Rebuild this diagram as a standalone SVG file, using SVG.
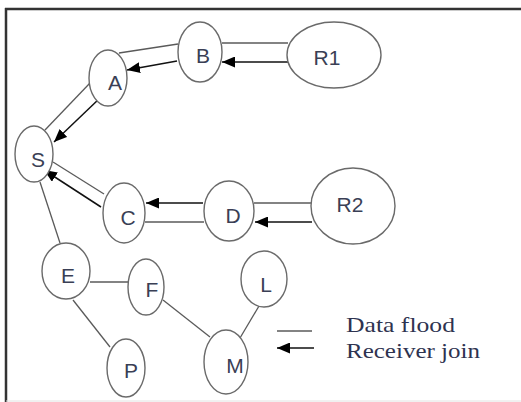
<svg xmlns="http://www.w3.org/2000/svg" width="521" height="402" viewBox="0 0 521 402">
<style>
.node ellipse{fill:#fff;stroke:#6a6a6a;stroke-width:1.4}
.node text{font-family:"Liberation Sans",Arial,sans-serif;font-size:21px;fill:#3a3f55;text-anchor:middle}
.flood{stroke:#5a5a5a;stroke-width:1.3;fill:none}
.join{stroke:#111;stroke-width:1.5;fill:none;marker-end:url(#ah)}
.legend{font-family:"Liberation Serif","Times New Roman",serif;font-size:22px;fill:#2e3350}
</style>
<defs>
<marker id="ah" markerUnits="userSpaceOnUse" markerWidth="13" markerHeight="11" refX="13" refY="5.5" orient="auto">
<path d="M0,0 L13,5.5 L0,11 z" fill="#000"/>
</marker>
</defs>
<rect width="521" height="402" fill="#fff"/>
<g id="frame">
<line x1="5" y1="9" x2="521" y2="9" stroke="#333" stroke-width="2.5"/>
<line x1="6" y1="8" x2="6" y2="402" stroke="#333" stroke-width="2.5"/>
<line x1="6" y1="401" x2="521" y2="401" stroke="#e2e2e2" stroke-width="1"/>
</g>
<g id="connectors">
<line class="flood" x1="222" y1="43" x2="288" y2="43"/>
<line class="flood" x1="119" y1="53" x2="178" y2="44"/>
<line class="flood" x1="90" y1="83" x2="45" y2="130"/>
<line class="flood" x1="53" y1="162" x2="104" y2="194"/>
<line class="flood" x1="145" y1="222" x2="204" y2="222"/>
<line class="flood" x1="254" y1="203" x2="313" y2="203"/>
<line class="flood" x1="40" y1="182" x2="60" y2="243"/>
<line class="flood" x1="90" y1="282" x2="128" y2="282"/>
<line class="flood" x1="73" y1="300" x2="110" y2="347"/>
<line class="flood" x1="163" y1="300" x2="210" y2="337"/>
<line class="flood" x1="240" y1="338" x2="259" y2="306"/>
<line class="join" x1="288" y1="62" x2="222" y2="62"/>
<line class="join" x1="177" y1="61" x2="127" y2="70"/>
<line class="join" x1="100" y1="98" x2="54" y2="142"/>
<line class="join" x1="101" y1="207" x2="44" y2="170"/>
<line class="join" x1="203" y1="203" x2="146" y2="203"/>
<line class="join" x1="312" y1="222" x2="255" y2="222"/>
</g>
<g id="node-B" class="node"><ellipse cx="200" cy="52" rx="22" ry="30"/><text x="203" y="63">B</text></g>
<g id="node-R1" class="node"><ellipse cx="334" cy="55" rx="47" ry="33"/><text x="327" y="65">R1</text></g>
<g id="node-A" class="node"><ellipse cx="108" cy="78" rx="19" ry="28"/><text x="115" y="90">A</text></g>
<g id="node-S" class="node"><ellipse cx="34" cy="154" rx="19" ry="28"/><text x="38" y="167">S</text></g>
<g id="node-C" class="node"><ellipse cx="124" cy="213" rx="21" ry="30"/><text x="128" y="225">C</text></g>
<g id="node-D" class="node"><ellipse cx="229" cy="211" rx="25" ry="30"/><text x="233" y="223">D</text></g>
<g id="node-R2" class="node"><ellipse cx="353" cy="206" rx="42" ry="38"/><text x="350" y="212">R2</text></g>
<g id="node-E" class="node"><ellipse cx="66" cy="271" rx="24" ry="28"/><text x="68" y="283">E</text></g>
<g id="node-F" class="node"><ellipse cx="146" cy="287" rx="18" ry="28"/><text x="152" y="297">F</text></g>
<g id="node-P" class="node"><ellipse cx="126" cy="368" rx="19" ry="29"/><text x="131" y="378">P</text></g>
<g id="node-M" class="node"><ellipse cx="226" cy="362" rx="22" ry="32"/><text x="235" y="373">M</text></g>
<g id="node-L" class="node"><ellipse cx="264" cy="279" rx="23" ry="28"/><text x="266" y="292">L</text></g>
<g id="legend">
<line class="flood" x1="277" y1="331" x2="312" y2="331"/>
<line class="join" x1="314" y1="348" x2="277" y2="348"/>
<text class="legend" x="346" y="332" textLength="109" lengthAdjust="spacingAndGlyphs">Data flood</text>
<text class="legend" x="346" y="358" textLength="134" lengthAdjust="spacingAndGlyphs">Receiver join</text>
</g>
</svg>
